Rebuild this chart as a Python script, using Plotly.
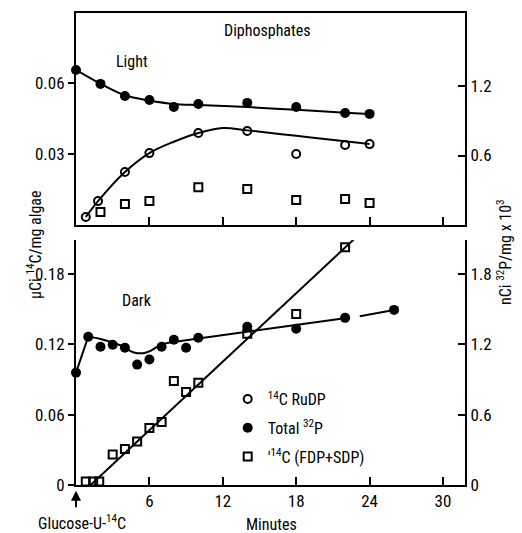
import plotly.graph_objects as go

# ---------------- data ----------------
# Light panel (Diphosphates)
light_t_32p = [0, 2, 4, 6, 8, 10, 14, 18, 22, 24]
light_32p = [1.338, 1.218, 1.114, 1.079, 1.019, 1.045, 1.054, 1.019, 0.967, 0.959]  # nCi 32P/mg x10^3
light_t_rudp = [0.8, 1.8, 4, 6, 10, 14, 18, 22, 24]
light_rudp = [0.0034, 0.0101, 0.0224, 0.0304, 0.0389, 0.0397, 0.0300, 0.0338, 0.0342]  # uCi 14C/mg
light_t_fdp = [2, 4, 6, 10, 14, 18, 22, 24]
light_fdp = [0.0055, 0.0089, 0.0101, 0.0160, 0.0152, 0.0106, 0.0110, 0.0093]

# hand-drawn curves in the light panel
light_fit_t_32p = [0, 2, 4, 6, 8, 10, 14, 18, 22, 24]
light_fit_32p = [1.34, 1.22, 1.12, 1.075, 1.045, 1.035, 1.018, 0.994, 0.97, 0.958]
light_fit_t_rudp = [0.8, 1.8, 4, 6, 8, 10, 12, 14, 18, 22, 24]
light_fit_rudp = [0.0034, 0.0101, 0.0224, 0.0304, 0.0352, 0.0389, 0.0410, 0.0400, 0.0377, 0.0354, 0.0342]

# Dark panel
dark_t_32p = [0, 1, 2, 3, 4, 5, 6, 7, 8, 9, 10, 14, 18, 22, 26]
dark_32p = [0.959, 1.265, 1.18, 1.197, 1.171, 1.027, 1.07, 1.18, 1.239, 1.171, 1.256, 1.35, 1.333, 1.426, 1.494]
dark_t_fdp = [0.8, 1.4, 1.9, 3, 4, 5, 6, 7, 8, 9, 10, 14, 18, 22]
dark_fdp = [0.003, 0.003, 0.003, 0.026, 0.0307, 0.0371, 0.0486, 0.0538, 0.0888, 0.0794, 0.0873, 0.129, 0.146, 0.203]

# hand-drawn curves in the dark panel
dark_fit_a_t = [0, 1]
dark_fit_a = [0.959, 1.265]
dark_fit_b_t = [1, 2, 3, 4, 4.5, 5, 5.5, 6, 7, 8, 9, 10]
dark_fit_b = [1.27, 1.245, 1.215, 1.175, 1.14, 1.125, 1.125, 1.14, 1.2, 1.22, 1.235, 1.25]
dark_fit_c_t = [10, 22.4]
dark_fit_c = [1.25, 1.43]
dark_fit_d_t = [23.2, 26]
dark_fit_d = [1.44, 1.494]
dark_fit_fdp_t = [1.2, 22.7]
dark_fit_fdp = [0.0, 0.2095]

x_ticks = [6, 12, 18, 24, 30]
x_ticktext = ["6", "12", "18", "24", "30"]
top_left_ticks = [0.03, 0.06]
top_left_text = ["0.03", "0.06"]
top_right_ticks = [0.6, 1.2]
top_right_text = ["0.6", "1.2"]
bot_left_ticks = [0, 0.06, 0.12, 0.18]
bot_left_text = ["0", "0.06", "0.12", "0.18"]
bot_right_ticks = [0, 0.6, 1.2, 1.8]
bot_right_text = ["0", "0.6", "1.2", "1.8"]

FONT = "Liberation Sans Narrow, Roboto Condensed, DejaVu Sans Condensed, Liberation Sans, sans-serif"
K = "black"

fig = go.Figure()

def line(x, y, xa, ya, shape="linear"):
    fig.add_trace(go.Scatter(x=x, y=y, xaxis=xa, yaxis=ya, mode="lines",
                             line=dict(color=K, width=2, shape=shape, smoothing=1.0),
                             showlegend=False, hoverinfo="skip"))

# curves
line(light_fit_t_32p, light_fit_32p, "x", "y2", "spline")
line(light_fit_t_rudp, light_fit_rudp, "x", "y", "spline")
line(dark_fit_a_t, dark_fit_a, "x2", "y4")
line(dark_fit_b_t, dark_fit_b, "x2", "y4", "spline")
line(dark_fit_c_t, dark_fit_c, "x2", "y4")
line(dark_fit_d_t, dark_fit_d, "x2", "y4")
line(dark_fit_fdp_t, dark_fit_fdp, "x2", "y3")

open_circle = dict(symbol="circle-open", size=8, color=K, line=dict(width=2, color=K))
filled_circle = dict(symbol="circle", size=10, color=K)
open_square = dict(symbol="square-open", size=8, color=K, line=dict(width=2, color=K))

fig.add_trace(go.Scatter(x=light_t_rudp, y=light_rudp, xaxis="x", yaxis="y", mode="markers",
                         marker=open_circle, name="<sup>14</sup>C RuDP", legendgroup="a",
                         legendrank=1, cliponaxis=False))
fig.add_trace(go.Scatter(x=light_t_32p, y=light_32p, xaxis="x", yaxis="y2", mode="markers",
                         marker=filled_circle, name="Total <sup>32</sup>P", legendgroup="b",
                         legendrank=2, cliponaxis=False))
fig.add_trace(go.Scatter(x=light_t_fdp, y=light_fdp, xaxis="x", yaxis="y", mode="markers",
                         marker=open_square, name="'<sup>14</sup>C (FDP+SDP)", legendgroup="c",
                         legendrank=3, cliponaxis=False))
fig.add_trace(go.Scatter(x=dark_t_32p, y=dark_32p, xaxis="x2", yaxis="y4", mode="markers",
                         marker=filled_circle, showlegend=False, cliponaxis=False))
fig.add_trace(go.Scatter(x=dark_t_fdp, y=dark_fdp, xaxis="x2", yaxis="y3", mode="markers",
                         marker=open_square, showlegend=False, cliponaxis=False))

tickfont = dict(family=FONT, size=17, color=K)
common = dict(showgrid=False, zeroline=False, showline=True, linecolor=K, linewidth=2,
              tickcolor=K, tickwidth=2, tickfont=tickfont)

XR = [0, 31.8]
fig.update_layout(
    width=522, height=533,
    margin=dict(l=76, r=57, t=13, b=48),
    paper_bgcolor="white", plot_bgcolor="white",
    font=dict(family=FONT, size=16, color=K),
    xaxis=dict(domain=[0, 1], range=XR, anchor="y", mirror=True, ticks="inside", ticklen=8,
               tickvals=x_ticks, showticklabels=False, **common),
    xaxis2=dict(domain=[0, 1], range=XR, anchor="y3", ticks="inside", ticklen=8,
                tickvals=x_ticks, ticktext=x_ticktext, **common),
    yaxis=dict(domain=[0.5508, 1], range=[0, 0.0896], anchor="x", ticks="outside", ticklen=6,
               tickvals=top_left_ticks, ticktext=top_left_text, **common),
    yaxis2=dict(overlaying="y", side="right", anchor="x", range=[0, 1.83], ticks="inside", ticklen=7,
                tickvals=top_right_ticks, ticktext=top_right_text, **common),
    yaxis3=dict(domain=[0, 0.519], range=[0, 0.2091], anchor="x2", ticks="outside", ticklen=6,
                tickvals=bot_left_ticks, ticktext=bot_left_text, **common),
    yaxis4=dict(overlaying="y3", side="right", anchor="x2", range=[0, 2.09], ticks="inside", ticklen=7,
                tickvals=bot_right_ticks, ticktext=bot_right_text, **common),
    legend=dict(x=0.39, y=0.218, xanchor="left", yanchor="top", bgcolor="rgba(0,0,0,0)",
                traceorder="grouped", tracegroupgap=5, font=dict(family=FONT, size=16, color=K)),
    showlegend=True,
)

def px_to_paper(px, py):
    return (px - 76) / 389.0, (485 - py) / 472.0

def note(text, px, py, size=16, angle=0):
    x, y = px_to_paper(px, py)
    fig.add_annotation(text=text, x=x, y=y, xref="paper", yref="paper", showarrow=False,
                       textangle=angle, font=dict(family=FONT, size=size, color=K),
                       xanchor="center", yanchor="middle")

note("Diphosphates", 267, 30)
note("Light", 132, 62)
note("Dark", 137, 300)
note("Minutes", 271, 524)
note("Glucose-U-<sup>14</sup>C", 82, 522)
note("μCi <sup>14</sup>C/mg algae", 34, 245)
note("nCi <sup>32</sup>P/mg x 10<sup>3</sup>", 504, 252)

# rotate the two axis titles
for a in fig.layout.annotations[-2:]:
    a.textangle = -90

# arrow marking glucose addition at t = 0
fig.add_annotation(x=0, y=-0.012, xref="x2", yref="paper", text="", showarrow=True,
                   ax=0, ay=18, axref="pixel", ayref="pixel", arrowhead=2, arrowsize=1,
                   arrowwidth=2, arrowcolor=K)

fig.write_html("out.html")
